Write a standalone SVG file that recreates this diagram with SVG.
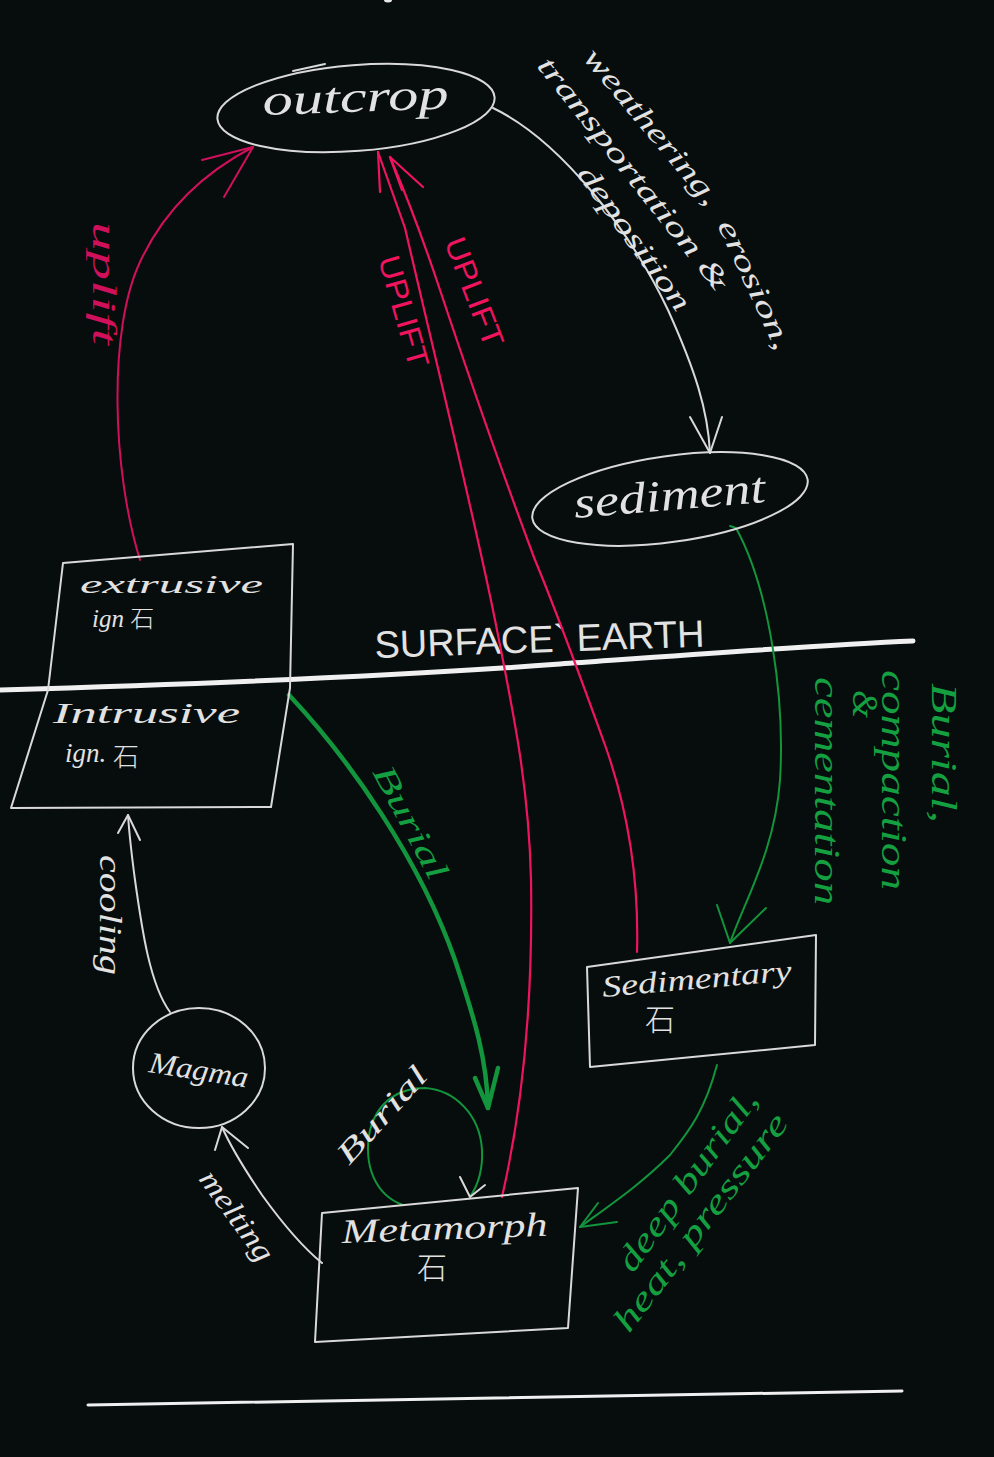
<svg xmlns="http://www.w3.org/2000/svg" width="994" height="1457" viewBox="0 0 994 1457">
<style>
.w{fill:none;stroke:#d9d9d9;stroke-width:2;stroke-linecap:round;stroke-linejoin:round}
.r{fill:none;stroke:#f0145e;stroke-width:2.2;stroke-linecap:round;stroke-linejoin:round}
.rd{fill:none;stroke:#d0105a;stroke-width:2;stroke-linecap:round;stroke-linejoin:round}
.g{fill:none;stroke:#12953c;stroke-width:2;stroke-linecap:round;stroke-linejoin:round}
.gt{fill:none;stroke:#12953c;stroke-width:4.5;stroke-linecap:round;stroke-linejoin:round}
.hw{font-family:"Liberation Serif","Noto Sans CJK SC",serif;font-style:italic}
.cj{font-family:"Noto Sans CJK SC",sans-serif;font-style:normal;font-weight:300}
.cap{font-family:"Liberation Sans",sans-serif}
.tw{fill:#e2e2e2}
.tr{fill:#f0145e}
.trd{fill:#d0105a}
.tg{fill:#14a040}
</style>
<rect width="994" height="1457" fill="#070d0d"/>
<ellipse cx="388" cy="0" rx="4" ry="2.5" fill="#e8e8e8"/>

<!-- ground lines -->
<g id="surface">
<path d="M0,690 C200,684 400,676 560,664 C700,654 820,645 913,641" fill="none" stroke="#f0f0f0" stroke-width="5" stroke-linecap="round"/>
<text class="cap tw" transform="translate(375,658) rotate(-2)" font-size="38" textLength="330" lengthAdjust="spacingAndGlyphs">SURFACE` EARTH</text>
</g>
<path id="bottom-line" d="M88,1405 L902,1391" fill="none" stroke="#f0f0f0" stroke-width="3" stroke-linecap="round"/>

<!-- connectors -->
<g id="connectors">
<path class="w" d="M493,108 C560,140 630,230 668,310 C695,370 708,410 710,453"/>
<path class="w" d="M690,417 L710,453 L722,417"/>

<path class="g" d="M730,526 L736,528 C770,590 785,700 780,780 C775,850 745,900 730,943"/>
<path class="g" d="M717,905 L730,943 L766,908"/>

<path class="rd" d="M140,560 C112,470 108,330 140,262 C165,208 205,172 253,147"/>
<path class="rd" d="M202,160 L253,147 L224,197"/>

<path class="r" d="M502,1197 C522,1110 533,1000 531,880 C529,790 515,720 495,620 C475,520 445,400 405,228 L378,152"/>
<path class="r" d="M380,192 L378,152"/>
<path class="r" d="M637,952 C639,880 628,810 605,745 C585,690 560,620 535,560 C505,480 470,380 440,290 C420,230 402,185 390,157"/>
<path class="r" d="M402,190 L390,157 L423,187"/>

<path class="gt" d="M289,695 C350,760 420,860 455,960 C475,1020 487,1060 488,1108"/>
<path class="gt" d="M475,1078 L488,1108 L498,1068"/>

<path class="g" d="M403,1205 C375,1195 363,1165 370,1130 C378,1100 400,1088 425,1088 C455,1090 480,1115 482,1150 C483,1170 478,1185 470,1197"/>
<path class="w" d="M460,1177 L470,1197 L485,1185"/>

<path class="g" d="M717,1065 C705,1110 690,1130 670,1155 C640,1185 610,1205 580,1227"/>
<path class="g" d="M598,1203 L580,1227 L617,1222"/>

<path class="w" d="M170,1012 C150,985 142,930 135,880 C131,850 129,830 128,815"/>
<path class="w" d="M118,833 L128,815 L140,840"/>

<path class="w" d="M322,1263 C300,1245 280,1220 262,1195 C245,1170 230,1145 222,1127"/>
<path class="w" d="M215,1150 L222,1127 L248,1148"/>
</g>

<!-- connector labels -->
<g id="labels">
<text class="hw tw" font-size="29" transform="translate(582,58) rotate(50)" textLength="195" lengthAdjust="spacingAndGlyphs">weathering,</text>
<text class="hw tw" font-size="29" transform="translate(717,225) rotate(65)" textLength="140" lengthAdjust="spacingAndGlyphs">erosion,</text>
<text class="hw tw" font-size="29" transform="translate(536,66) rotate(51.5)" textLength="290" lengthAdjust="spacingAndGlyphs">transportation &amp;</text>
<text class="hw tw" font-size="29" transform="translate(576,174) rotate(54)" textLength="172" lengthAdjust="spacingAndGlyphs">deposition</text>

<text class="hw tg" font-size="36" transform="translate(932,683) rotate(90)" textLength="140" lengthAdjust="spacingAndGlyphs">Burial,</text>
<text class="hw tg" font-size="36" transform="translate(882,670) rotate(90)" textLength="220" lengthAdjust="spacingAndGlyphs">compaction</text>
<text class="hw tg" font-size="36" transform="translate(853,690) rotate(90)" textLength="28" lengthAdjust="spacingAndGlyphs">&amp;</text>
<text class="hw tg" font-size="36" transform="translate(815,677) rotate(90)" textLength="228" lengthAdjust="spacingAndGlyphs">cementation</text>

<text class="hw trd" font-size="34" transform="translate(93,222) rotate(90)" textLength="123" lengthAdjust="spacingAndGlyphs">uplift</text>
<text class="cap tr" font-size="30" transform="translate(378,259) rotate(74)" textLength="115" lengthAdjust="spacingAndGlyphs">UPLIFT</text>
<text class="cap tr" font-size="30" transform="translate(444,242) rotate(69)" textLength="115" lengthAdjust="spacingAndGlyphs">UPLIFT</text>

<text class="hw tg" font-size="32" transform="translate(372,772) rotate(62)" textLength="125" lengthAdjust="spacingAndGlyphs">Burial</text>
<text class="hw tw" font-size="30" transform="translate(349,1166) rotate(-48)" textLength="120" lengthAdjust="spacingAndGlyphs">Burial</text>
<text class="hw tw" font-size="32" transform="translate(100,855) rotate(90)" textLength="120" lengthAdjust="spacingAndGlyphs">cooling</text>
<text class="hw tw" font-size="30" transform="translate(198,1179) rotate(54)" textLength="105" lengthAdjust="spacingAndGlyphs">melting</text>
<text class="hw tg" font-size="34" transform="translate(633,1274) rotate(-54)" textLength="215" lengthAdjust="spacingAndGlyphs">deep burial,</text>
<text class="hw tg" font-size="34" transform="translate(629,1334) rotate(-52.6)" textLength="265" lengthAdjust="spacingAndGlyphs">heat, pressure</text>
</g>

<!-- nodes -->
<g id="outcrop">
<ellipse class="w" cx="356" cy="108" rx="139" ry="43" transform="rotate(-4.5 356 108)"/>
<path class="w" d="M293,71 L325,64"/>
<text class="hw tw" font-size="44" transform="translate(263,115) rotate(-2)" textLength="186" lengthAdjust="spacingAndGlyphs">outcrop</text>
</g>

<g id="sediment">
<ellipse class="w" cx="670" cy="499" rx="139" ry="43" transform="rotate(-8 670 499)"/>
<text class="hw tw" font-size="44" transform="translate(575,518) rotate(-4.8)" textLength="192" lengthAdjust="spacingAndGlyphs">sediment</text>
</g>

<g id="igneous">
<path class="w" d="M63,563 L293,544 L290,688 L271,807 L11,808 L48,690 Z"/>
<text class="hw tw" font-size="25" x="80" y="593" textLength="183" lengthAdjust="spacingAndGlyphs">extrusive</text>
<text class="hw tw" font-size="25" x="92" y="627">ign <tspan class="cj" font-size="24">石</tspan></text>
<text class="hw tw" font-size="29" x="53" y="723" textLength="187" lengthAdjust="spacingAndGlyphs">Intrusive</text>
<text class="hw tw" font-size="27" x="65" y="762">ign. <tspan class="cj" font-size="26" dy="4">石</tspan></text>
</g>

<g id="sedimentary">
<path class="w" d="M587,967 L816,935 L815,1045 L590,1067 Z"/>
<text class="hw tw" font-size="30" transform="translate(603,997) rotate(-5)" textLength="190" lengthAdjust="spacingAndGlyphs">Sedimentary</text>
<text class="cj tw" font-size="30" x="645" y="1030">石</text>
</g>

<g id="metamorphic">
<path class="w" d="M322,1213 L578,1188 L568,1328 L315,1342 Z"/>
<text class="hw tw" font-size="34" transform="translate(342,1243) rotate(-2)" textLength="206" lengthAdjust="spacingAndGlyphs">Metamorph</text>
<text class="cj tw" font-size="30" x="417" y="1278">石</text>
</g>

<g id="magma">
<ellipse class="w" cx="199" cy="1068" rx="66" ry="60"/>
<text class="hw tw" font-size="30" transform="translate(148,1072) rotate(9)" textLength="100" lengthAdjust="spacingAndGlyphs">Magma</text>
</g>
</svg>
